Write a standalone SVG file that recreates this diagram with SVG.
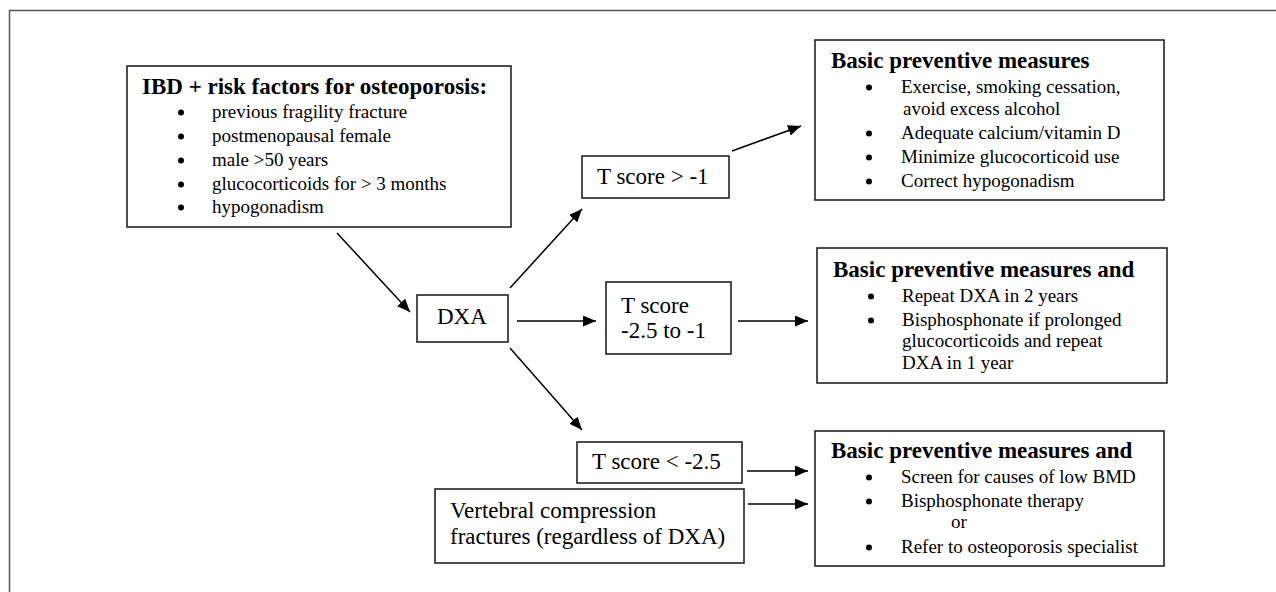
<svg xmlns="http://www.w3.org/2000/svg" width="1276" height="592" viewBox="0 0 1276 592">
<style>
  .box{fill:#fff;stroke:#222;stroke-width:1.6}
  .t{font-family:"Liberation Serif","Times New Roman",serif;fill:#000}
  .h{font-size:23px;font-weight:bold}
  .b{font-size:19px}
  .n{font-size:23px}
  .c{stroke:#000;stroke-width:1.5;fill:none;marker-end:url(#ah)}
  .dot{fill:#000}
</style>
<defs>
  <marker id="ah" markerUnits="userSpaceOnUse" markerWidth="14" markerHeight="12" refX="13" refY="5.5" orient="auto">
    <path d="M0,0 L13,5.5 L0,11 z" fill="#000"/>
  </marker>
  <circle id="bul" class="dot" r="3" cx="0" cy="0"/>
</defs>
<rect width="1276" height="592" fill="#fff"/>
<path d="M9.5,592 V10.5 H1276" fill="none" stroke="#555" stroke-width="1.5"/>

<g id="ibd">
  <rect class="box" x="127" y="66" width="384" height="161"/>
  <text class="t h" x="142" y="94">IBD + risk factors for osteoporosis:</text>
  <use href="#bul" x="181" y="112.5"/>
  <use href="#bul" x="181" y="136.5"/>
  <use href="#bul" x="181" y="160.5"/>
  <use href="#bul" x="181" y="184.5"/>
  <use href="#bul" x="181" y="207.5"/>
  <g class="t b">
    <text x="212" y="118">previous fragility fracture</text>
    <text x="212" y="142">postmenopausal female</text>
    <text x="212" y="166">male &gt;50 years</text>
    <text x="212" y="190">glucocorticoids for &gt; 3 months</text>
    <text x="212" y="213">hypogonadism</text>
  </g>
</g>

<g id="dxa">
  <rect class="box" x="417" y="295" width="91" height="47"/>
  <text class="t n" x="437" y="324">DXA</text>
</g>

<g id="t1">
  <rect class="box" x="582" y="156" width="147" height="42"/>
  <text class="t n" x="597" y="184">T score &gt; -1</text>
</g>

<g id="t2">
  <rect class="box" x="606" y="282" width="125" height="72"/>
  <text class="t n" x="621" y="313">T score</text>
  <text class="t n" x="621" y="338">-2.5 to -1</text>
</g>

<g id="t3">
  <rect class="box" x="577" y="442" width="165" height="41"/>
  <text class="t n" x="592" y="469">T score &lt; -2.5</text>
</g>

<g id="vert">
  <rect class="box" x="435" y="489" width="309" height="74"/>
  <text class="t n" x="450" y="518">Vertebral compression</text>
  <text class="t n" x="450" y="544">fractures (regardless of DXA)</text>
</g>

<g id="basic1">
  <rect class="box" x="815" y="40" width="349" height="160"/>
  <text class="t h" x="831" y="68">Basic preventive measures</text>
  <use href="#bul" x="869" y="87.5"/>
  <use href="#bul" x="869" y="133.5"/>
  <use href="#bul" x="869" y="157.5"/>
  <use href="#bul" x="869" y="181.5"/>
  <g class="t b">
    <text x="901" y="93">Exercise, smoking cessation,</text>
    <text x="903" y="115">avoid excess alcohol</text>
    <text x="901" y="139">Adequate calcium/vitamin D</text>
    <text x="901" y="163">Minimize glucocorticoid use</text>
    <text x="901" y="187">Correct hypogonadism</text>
  </g>
</g>

<g id="basic2">
  <rect class="box" x="817" y="248" width="350" height="135"/>
  <text class="t h" x="833" y="277">Basic preventive measures and</text>
  <use href="#bul" x="871" y="296.5"/>
  <use href="#bul" x="871" y="320.5"/>
  <g class="t b">
    <text x="902" y="302">Repeat DXA in 2 years</text>
    <text x="902" y="326">Bisphosphonate if prolonged</text>
    <text x="902" y="347">glucocorticoids and repeat</text>
    <text x="902" y="369">DXA in 1 year</text>
  </g>
</g>

<g id="basic3">
  <rect class="box" x="815" y="431" width="349" height="135"/>
  <text class="t h" x="831" y="458">Basic preventive measures and</text>
  <use href="#bul" x="869" y="477.5"/>
  <use href="#bul" x="869" y="501.5"/>
  <use href="#bul" x="869" y="547.5"/>
  <g class="t b">
    <text x="901" y="483">Screen for causes of low BMD</text>
    <text x="901" y="507">Bisphosphonate therapy</text>
    <text x="951" y="528">or</text>
    <text x="901" y="553">Refer to osteoporosis specialist</text>
  </g>
</g>

<g id="connectors">
  <line class="c" x1="337" y1="233" x2="410" y2="312"/>
  <line class="c" x1="510" y1="288" x2="582" y2="209"/>
  <line class="c" x1="517" y1="321" x2="596" y2="321"/>
  <line class="c" x1="510" y1="348" x2="582" y2="430"/>
  <line class="c" x1="732" y1="151" x2="801" y2="126"/>
  <line class="c" x1="738" y1="321" x2="808" y2="321"/>
  <line class="c" x1="747" y1="471" x2="808" y2="471"/>
  <line class="c" x1="748" y1="504" x2="808" y2="504"/>
</g>
</svg>
